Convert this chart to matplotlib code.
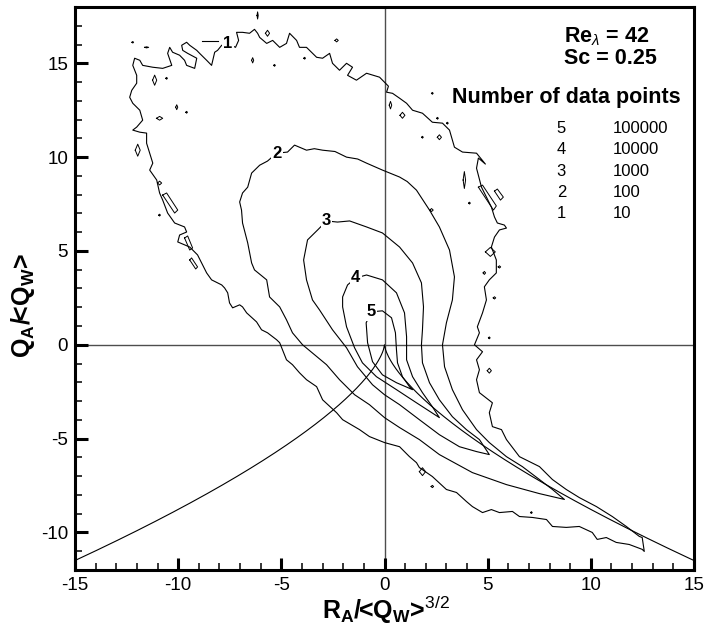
import matplotlib
matplotlib.use("Agg")
import matplotlib.pyplot as plt
import numpy as np
from matplotlib.ticker import MultipleLocator

plt.rcParams["font.family"] = ["Liberation Sans", "DejaVu Sans"]
plt.rcParams["mathtext.fontset"] = "custom"
plt.rcParams["mathtext.rm"] = "Liberation Sans"
plt.rcParams["mathtext.it"] = "Liberation Sans:italic"
plt.rcParams["mathtext.bf"] = "Liberation Sans:bold"
plt.rcParams["axes.unicode_minus"] = False

# iso-lines of the joint (R, Q) histogram, level k = 10**k samples per bin
level_5 = [(-0.63, 1.76), (-0.10, 1.81), (0.34, 1.44), (0.53, 0.64), (0.58, -0.27),
           (0.63, -0.96), (0.87, -1.70), (1.21, -2.23), (1.36, -2.39), (0.58, -2.02),
           (-0.10, -1.60), (-0.58, -0.90), (-0.82, 0.11), (-0.89, 1.17), (-0.63, 1.76)]

level_4 = [(-1.40, 3.56), (-0.87, 3.72), (-0.10, 3.46), (0.58, 2.77), (0.97, 1.70),
           (1.07, 0.43), (1.07, -0.80), (1.36, -1.70), (1.84, -2.55), (2.32, -3.30),
           (2.66, -3.88), (1.55, -3.09), (0.58, -2.39), (-0.39, -1.70), (-1.07, -0.96),
           (-1.45, -0.16), (-1.84, 0.96), (-2.03, 2.02), (-2.03, 2.55), (-1.79, 3.19),
           (-1.40, 3.56)]

level_3 = [(-2.81, 6.60), (-2.28, 6.54), (-1.69, 6.60), (-0.87, 6.28), (-0.10, 5.96),
           (0.73, 5.21), (1.36, 4.36), (1.79, 3.30), (1.89, 2.02), (1.84, 0.80),
           (1.79, 0.00), (1.84, -0.96), (2.18, -2.02), (2.66, -2.93), (3.29, -3.83),
           (3.97, -4.52), (4.60, -5.05), (5.08, -5.85), (4.46, -5.69), (3.63, -5.43),
           (2.66, -4.79), (1.69, -3.99), (0.73, -3.19), (0.00, -2.66), (-0.58, -2.13),
           (-1.31, -1.17), (-1.84, -0.16), (-2.52, 0.80), (-3.15, 1.86), (-3.49, 2.39),
           (-3.78, 3.46), (-3.92, 4.52), (-3.73, 5.59), (-3.24, 6.12), (-2.81, 6.60)]

level_2 = [(-5.23, 10.21), (-4.70, 10.27), (-4.36, 10.64), (-3.78, 10.37), (-3.40, 10.45),
           (-3.00, 10.37), (-2.40, 10.30), (-1.84, 10.00), (-1.30, 9.90), (-0.87, 9.68),
           (-0.10, 9.31), (0.73, 8.94), (1.10, 8.70), (1.55, 8.24), (2.18, 7.18),
           (2.66, 6.28), (3.15, 5.05), (3.39, 3.62), (3.29, 2.39), (3.00, 1.17),
           (2.81, 0.00), (2.91, -1.17), (3.29, -2.39), (3.78, -3.46), (4.46, -4.52),
           (5.08, -5.21), (5.91, -5.96), (6.68, -6.49), (7.51, -7.18), (8.14, -7.71),
           (8.72, -8.24), (7.51, -7.93), (5.91, -7.45), (4.26, -6.81), (2.66, -5.85),
           (1.69, -5.05), (0.73, -4.41), (0.00, -3.88), (-0.73, -3.19), (-1.45, -2.66),
           (-2.18, -1.86), (-2.81, -1.06), (-3.39, -0.53), (-3.97, 0.00), (-4.46, 0.64),
           (-4.75, 1.33), (-5.08, 2.02), (-5.57, 2.55), (-5.71, 3.46), (-6.30, 3.99),
           (-6.44, 4.36), (-6.63, 5.43), (-6.88, 6.49), (-6.93, 7.18), (-7.02, 7.61),
           (-6.88, 8.09), (-6.63, 8.40), (-6.44, 9.15), (-6.05, 9.57), (-5.67, 9.79),
           (-5.23, 10.21)]

level_1 = [(-7.60, 16.06), (-7.22, 15.85), (-7.07, 16.22), (-7.17, 16.65), (-6.88, 16.65),
           (-6.54, 16.60), (-6.30, 16.81), (-6.15, 16.60), (-6.05, 16.38), (-5.71, 16.06),
           (-5.42, 16.22), (-5.08, 15.85), (-4.75, 16.06), (-4.60, 16.60), (-4.26, 16.22),
           (-4.12, 15.85), (-3.78, 15.85), (-3.29, 15.32), (-3.00, 15.27), (-2.66, 15.53),
           (-2.52, 15.00), (-2.18, 14.63), (-1.84, 15.00), (-1.55, 14.79), (-1.79, 14.36),
           (-1.36, 14.10), (-0.87, 14.47), (-0.24, 14.26), (0.00, 13.99), (0.19, 13.78),
           (0.10, 13.46), (0.39, 13.40), (0.73, 13.14), (1.07, 12.87), (1.36, 12.50),
           (1.84, 12.34), (2.32, 11.86), (2.81, 11.81), (3.15, 11.44), (3.29, 10.90),
           (3.39, 10.53), (3.78, 10.27), (4.46, 10.21), (4.89, 9.63), (4.55, 9.95),
           (4.46, 9.41), (4.70, 8.40), (4.94, 7.87), (5.18, 7.34), (5.33, 6.81),
           (5.47, 6.49), (5.81, 6.38), (5.91, 6.22), (5.57, 6.12), (5.33, 5.74),
           (5.18, 5.21), (5.42, 4.52), (5.42, 3.83), (5.08, 3.46), (4.84, 3.09),
           (4.94, 2.39), (4.75, 1.70), (4.50, 0.96), (4.60, 0.64), (4.36, 0.00),
           (4.75, -0.37), (4.46, -0.80), (4.60, -1.33), (4.46, -1.86), (4.60, -2.55),
           (5.23, -3.09), (5.08, -3.62), (5.23, -4.36), (5.67, -4.52), (5.91, -5.05),
           (6.54, -5.96), (7.51, -6.49), (8.14, -7.18), (8.81, -7.71), (9.44, -8.14),
           (10.27, -8.62), (11.04, -9.15), (11.72, -9.68), (12.35, -10.21), (12.49, -10.27),
           (12.59, -11.01), (12.49, -10.90), (11.86, -10.64), (11.23, -10.53), (10.75, -10.27),
           (10.31, -10.37), (10.07, -10.00), (9.44, -9.68), (8.81, -9.73), (8.14, -9.68),
           (7.85, -9.31), (7.17, -9.20), (6.54, -9.15), (6.20, -8.88), (5.57, -8.94),
           (5.18, -8.78), (4.75, -8.94), (4.26, -8.62), (3.97, -8.35), (3.49, -7.87),
           (3.00, -7.71), (2.32, -7.02), (1.69, -6.54), (1.55, -6.28), (1.21, -5.96),
           (0.73, -5.43), (0.00, -5.21), (-0.73, -4.89), (-1.21, -4.52), (-2.03, -3.99),
           (-2.32, -3.62), (-3.00, -2.93), (-3.29, -2.23), (-3.78, -1.86), (-4.12, -1.49),
           (-4.46, -1.06), (-4.75, -0.80), (-5.08, 0.11), (-5.23, 0.27), (-5.67, 0.64),
           (-5.96, 0.80), (-6.20, 1.22), (-6.68, 1.70), (-6.88, 2.02), (-7.02, 2.13),
           (-7.36, 1.97), (-7.51, 2.23), (-7.60, 2.77), (-7.75, 3.03), (-7.89, 3.19),
           (-8.38, 3.46), (-8.62, 3.83), (-8.86, 4.36), (-9.06, 4.79), (-9.44, 5.21),
           (-10.02, 5.48), (-9.93, 5.85), (-9.59, 6.01), (-9.69, 6.28), (-10.17, 6.49),
           (-10.51, 7.02), (-10.75, 7.71), (-10.90, 8.09), (-11.04, 8.78), (-11.38, 9.31),
           (-11.23, 9.68), (-11.38, 10.21), (-11.53, 10.74), (-11.53, 11.28), (-11.86, 11.33),
           (-12.20, 11.44), (-12.01, 11.60), (-11.72, 11.97), (-11.86, 12.50), (-12.20, 12.87),
           (-12.35, 13.19), (-12.25, 13.56), (-12.01, 13.94), (-12.01, 14.36), (-12.20, 14.89),
           (-12.11, 15.27), (-11.86, 15.16), (-11.72, 14.89), (-11.23, 14.79), (-10.75, 14.73),
           (-10.31, 14.89), (-10.51, 15.53), (-10.41, 15.85), (-10.27, 15.59), (-9.93, 15.43),
           (-9.69, 15.16), (-9.59, 14.89), (-9.20, 14.73), (-9.10, 15.27), (-9.54, 15.53),
           (-9.78, 15.69), (-9.83, 15.96), (-9.59, 16.12), (-9.44, 15.96), (-9.10, 15.69),
           (-8.96, 15.53), (-8.62, 15.16), (-8.38, 14.89), (-8.23, 15.59), (-8.09, 15.69),
           (-7.89, 15.96), (-7.60, 16.06)]

# small detached islands of level 1: centre r, centre q, half-width, half-height
islands = [(-11.14, 14.10, 0.10, 0.27), (-10.90, 12.07, 0.15, 0.10), (-11.96, 10.37, 0.12, 0.32),
           (-10.90, 8.62, 0.10, 0.10), (-5.67, 16.60, 0.10, 0.16), (-6.39, 15.16, 0.05, 0.14),
           (-6.15, 17.55, 0.03, 0.19), (-2.32, 16.22, 0.08, 0.08), (-3.87, 15.27, 0.04, 0.05),
           (-5.33, 14.89, 0.04, 0.05), (-10.56, 14.20, 0.04, 0.05), (-10.07, 12.66, 0.05, 0.13),
           (-9.59, 12.39, 0.04, 0.05), (-11.53, 15.85, 0.10, 0.03), (-12.20, 16.12, 0.04, 0.04),
           (0.29, 12.77, 0.06, 0.20), (0.87, 12.23, 0.12, 0.16), (2.32, 13.40, 0.04, 0.05),
           (2.57, 12.07, 0.04, 0.05), (3.05, 11.81, 0.04, 0.05), (2.66, 11.06, 0.10, 0.13),
           (1.84, 11.06, 0.04, 0.05), (3.87, 8.78, 0.06, 0.45), (4.12, 7.55, 0.04, 0.05),
           (2.28, 7.18, 0.08, 0.08), (5.13, 4.95, 0.24, 0.24), (5.57, 4.15, 0.06, 0.06),
           (4.84, 3.83, 0.06, 0.08), (5.33, 2.50, 0.06, 0.06), (5.08, 0.37, 0.04, 0.05),
           (5.08, -1.38, 0.10, 0.13), (2.32, -7.55, 0.06, 0.06), (7.12, -8.94, 0.04, 0.05),
           (1.84, -6.76, 0.15, 0.21), (-10.90, 6.91, 0.04, 0.05)]

slivers = [
    [(-10.75, 7.98), (-10.56, 8.09), (-10.02, 7.18), (-10.17, 7.02)],
    [(-9.69, 5.69), (-9.54, 5.80), (-9.30, 5.16), (-9.44, 5.05)],
    [(-9.44, 4.52), (-9.35, 4.63), (-9.06, 4.15), (-9.15, 4.04)],
    [(4.55, 8.40), (4.75, 8.51), (5.42, 7.40), (5.28, 7.18)],
    [(5.33, 8.19), (5.47, 8.30), (5.76, 7.87), (5.62, 7.71)],
]
label_dash = [(-8.86, 16.17), (-8.09, 16.17)]

level_labels = ["1", "2", "3", "4", "5"]
level_counts = ["10", "100", "1000", "10000", "100000"]

# Vieillefosse tail, discriminant Q^3 + 27/4 R^2 = 0
r_line = np.linspace(-15, 15, 601)
q_line = -np.cbrt(27.0 / 4.0 * r_line ** 2)

fig = plt.figure(figsize=(7.09, 6.30), dpi=100)
ax = fig.add_axes([75 / 709, 1 - 570 / 630, 619 / 709, 563 / 630])

ax.axhline(0, color="0.3", lw=1.0, zorder=1)
ax.axvline(0, color="0.3", lw=1.0, zorder=1)
ax.plot(r_line, q_line, color="black", lw=0.8, zorder=2)

contours = [level_1, level_2, level_3, level_4, level_5]
for path in contours:
    r, q = zip(*path)
    ax.plot(r, q, color="black", lw=0.8, zorder=2)

for r0, q0, hw, hh in islands:
    ax.plot([r0 - hw, r0, r0 + hw, r0, r0 - hw], [q0, q0 + hh, q0, q0 - hh, q0],
            color="black", lw=0.7, zorder=2)
for poly in slivers:
    r, q = zip(*(poly + poly[:1]))
    ax.plot(r, q, color="black", lw=0.7, zorder=2)
r, q = zip(*label_dash)
ax.plot(r, q, color="black", lw=0.8, zorder=2)

# inline level labels sit on the first point of each path
for name, path in zip(level_labels, contours):
    ax.text(path[0][0], path[0][1], name, ha="center", va="center", fontsize=12,
            fontweight="bold", zorder=5,
            bbox=dict(facecolor="white", edgecolor="none", pad=1.0))

ax.text(8.72, 16.44, r"$\mathbf{Re}_{\lambda}$ = 42", fontsize=15.5, fontweight="bold",
        ha="left", va="center")
ax.text(8.72, 15.27, "Sc = 0.25", fontsize=15.5, fontweight="bold", ha="left", va="center")
ax.text(3.29, 13.19, "Number of data points", fontsize=15.5, fontweight="bold",
        ha="left", va="center")
for i, (name, count) in enumerate(zip(level_labels[::-1], level_counts[::-1])):
    y = 11.54 - 1.14 * i
    ax.text(8.57, y, name, fontsize=12, ha="center", va="center")
    ax.text(11.04, y, count, fontsize=12, ha="left", va="center")

ax.set_xlim(-15, 15)
ax.set_ylim(-12, 18)
ax.xaxis.set_major_locator(MultipleLocator(5))
ax.xaxis.set_minor_locator(MultipleLocator(1))
ax.yaxis.set_major_locator(MultipleLocator(5))
ax.yaxis.set_minor_locator(MultipleLocator(1))
ax.tick_params(which="both", direction="in", top=False, right=False, labelsize=13.5)
ax.tick_params(which="major", length=9, width=2.2, pad=5)
ax.tick_params(which="minor", length=5, width=1.1)
for spine in ax.spines.values():
    spine.set_linewidth(2.2)

fig.text(386 / 709, 1 - 610 / 630, r"$\mathbf{R_A}$/<$\mathbf{Q_W}$>$^{3/2}$",
         fontsize=18, fontweight="bold", ha="center", va="center")
fig.text(23 / 709, 1 - 306 / 630, r"$\mathbf{Q_A}$/<$\mathbf{Q_W}$>", fontsize=18,
         fontweight="bold", ha="center", va="center", rotation=90)

fig.savefig("out.png", dpi=100)
